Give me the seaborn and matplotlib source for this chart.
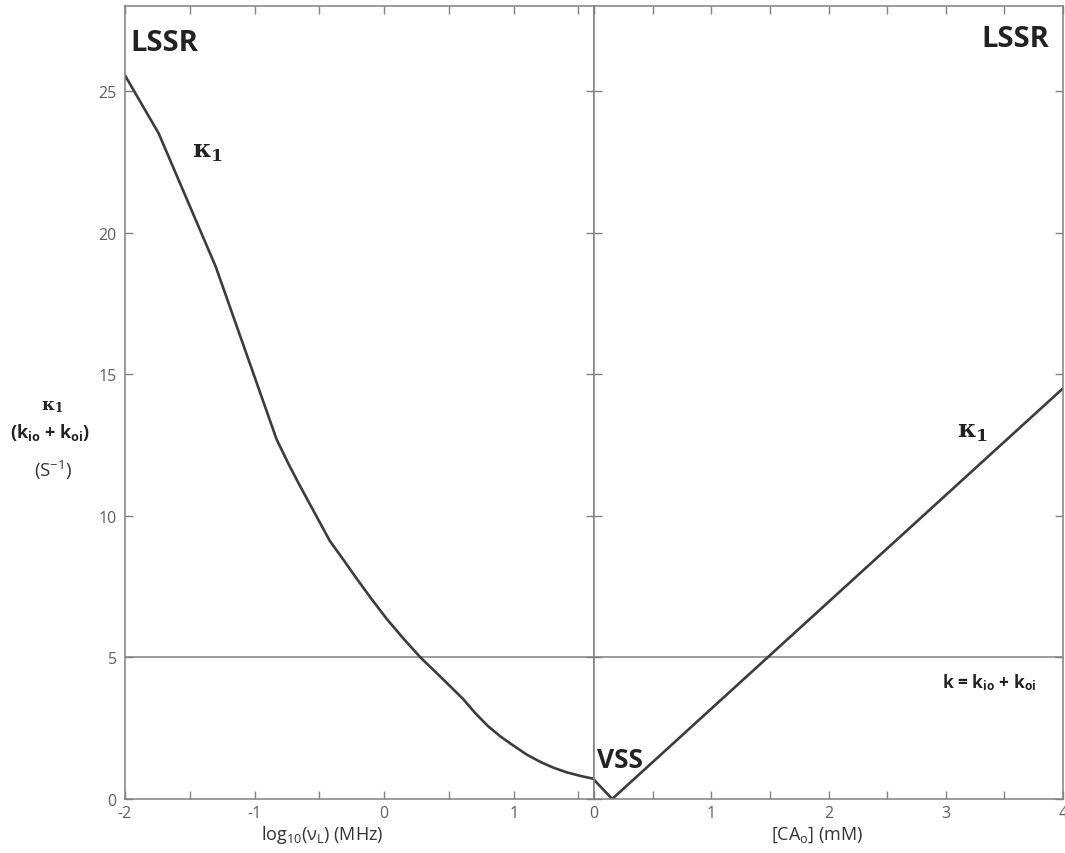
import numpy as np
import pandas as pd
import matplotlib
matplotlib.use("Agg")
import matplotlib.pyplot as plt
from matplotlib.ticker import MultipleLocator, FuncFormatter
import seaborn as sns

# ---- data ----
left_x = [-2.0, -1.92, -1.74, -1.30, -0.83, -0.74, -0.65, -0.53, -0.42, -0.31, -0.21, -0.10, 0.02, 0.15, 0.28,
          0.45, 0.61, 0.70, 0.80, 0.90, 1.00, 1.10, 1.21, 1.31, 1.41, 1.52, 1.62]
left_y = [25.55, 24.92, 23.5, 18.8, 12.7, 11.85, 11.06, 10.05, 9.12, 8.42, 7.77, 7.08, 6.36, 5.66, 5.00,
          4.25, 3.53, 3.05, 2.58, 2.20, 1.88, 1.57, 1.30, 1.10, 0.94, 0.81, 0.71]
right_x = [0.0, 0.155, 4.0]
right_y = [0.68, 0.0, 14.5]
k_level = 5
y_ticks = [0, 5, 10, 15, 20, 25]

sns.set_theme(style="white")
plt.rcParams["font.family"] = ["Open Sans", "DejaVu Sans"]
plt.rcParams["mathtext.fontset"] = "custom"
plt.rcParams["mathtext.rm"] = "Open Sans"
plt.rcParams["mathtext.it"] = "Open Sans:italic"
plt.rcParams["mathtext.bf"] = "Open Sans:bold"
plt.rcParams["mathtext.sf"] = "DejaVu Serif:bold"

W, H = 1065, 854
fig = plt.figure(figsize=(W / 100, H / 100), dpi=100)
axL = fig.add_axes([125 / W, 1 - 800 / H, 469 / W, 793 / H])
axR = fig.add_axes([594 / W, 1 - 800 / H, 469 / W, 793 / H])

curve_col = "#3c3c3c"
spine_col = "#808080"
tick_col = "#5f5f5f"

dfL = pd.DataFrame({"x": left_x, "y": left_y})
dfR = pd.DataFrame({"x": right_x, "y": right_y})
sns.lineplot(data=dfL, x="x", y="y", ax=axL, color=curve_col, lw=1.9, sort=False, estimator=None)
sns.lineplot(data=dfR, x="x", y="y", ax=axR, color=curve_col, lw=1.9, sort=False, estimator=None)

for ax in (axL, axR):
    ax.axhline(k_level, color=spine_col, lw=1.1, zorder=1)
    ax.set_ylim(0, 28)
    ax.set_yticks(y_ticks)
    ax.xaxis.set_major_locator(MultipleLocator(0.5))
    ax.xaxis.set_major_formatter(FuncFormatter(lambda v, p: f"{int(round(v))}" if abs(v - round(v)) < 1e-6 else ""))
    for s in ax.spines.values():
        s.set_color(spine_col)
        s.set_linewidth(1.1)
        s.set_visible(True)
    ax.tick_params(axis="both", direction="in", length=6, width=1.0, color=spine_col,
                   labelcolor=tick_col, labelsize=11.5, top=True, right=True, bottom=True, left=True)
    ax.tick_params(axis="x", pad=4)
    ax.tick_params(axis="y", pad=6)
    ax.set_xlabel("")
    ax.set_ylabel("")
    ax.set_facecolor("white")

axL.set_xlim(-2, 1.62)
axR.set_xlim(0, 4)
axR.tick_params(axis="y", labelleft=False)

# annotations
txt_col = "#222222"
axL.text(-1.955, 26.45, "LSSR", fontsize=21, fontweight="bold", color=txt_col, ha="left", va="baseline")
axR.text(3.88, 26.6, "LSSR", fontsize=21, fontweight="bold", color=txt_col, ha="right", va="baseline")
axL.text(-1.485, 22.67, "κ$_{\\mathsf{1}}$", fontsize=18, family="DejaVu Serif", fontweight="bold",
         color=txt_col, ha="left", va="baseline")
axR.text(3.097, 12.8, "κ$_{\\mathsf{1}}$", fontsize=18, family="DejaVu Serif", fontweight="bold",
         color=txt_col, ha="left", va="baseline")
axR.text(0.028, 1.13, "VSS", fontsize=19, fontweight="bold", color=txt_col, ha="left", va="baseline")
axR.text(2.967, 3.95, "k = k$_{\\mathbf{io}}$ + k$_{\\mathbf{oi}}$", fontsize=12.5, fontweight="bold",
         color=txt_col, ha="left", va="baseline")

# y label (stacked horizontal text)
fig.text(52 / W, 1 - 410 / H, "κ$_{\\mathsf{1}}$", fontsize=12.5, family="DejaVu Serif", fontweight="bold",
         color=txt_col, ha="center", va="baseline")
fig.text(50 / W, 1 - 438 / H, "(k$_{\\mathbf{io}}$ + k$_{\\mathbf{oi}}$)", fontsize=13, fontweight="bold",
         color=txt_col, ha="center", va="baseline")
fig.text(53 / W, 1 - 477 / H, "(S$^{\\mathrm{-1}}$)", fontsize=13.5, color="#333333", ha="center", va="baseline")

# x labels
fig.text(322 / W, 1 - 840 / H, "log$_{\\mathrm{10}}$(ν$_{\\mathrm{L}}$) (MHz)", fontsize=13, color="#333333",
         ha="center", va="baseline")
fig.text(817 / W, 1 - 840 / H, "[CA$_{\\mathrm{o}}$] (mM)", fontsize=13, color="#333333",
         ha="center", va="baseline")

fig.savefig("out.png", dpi=100)
